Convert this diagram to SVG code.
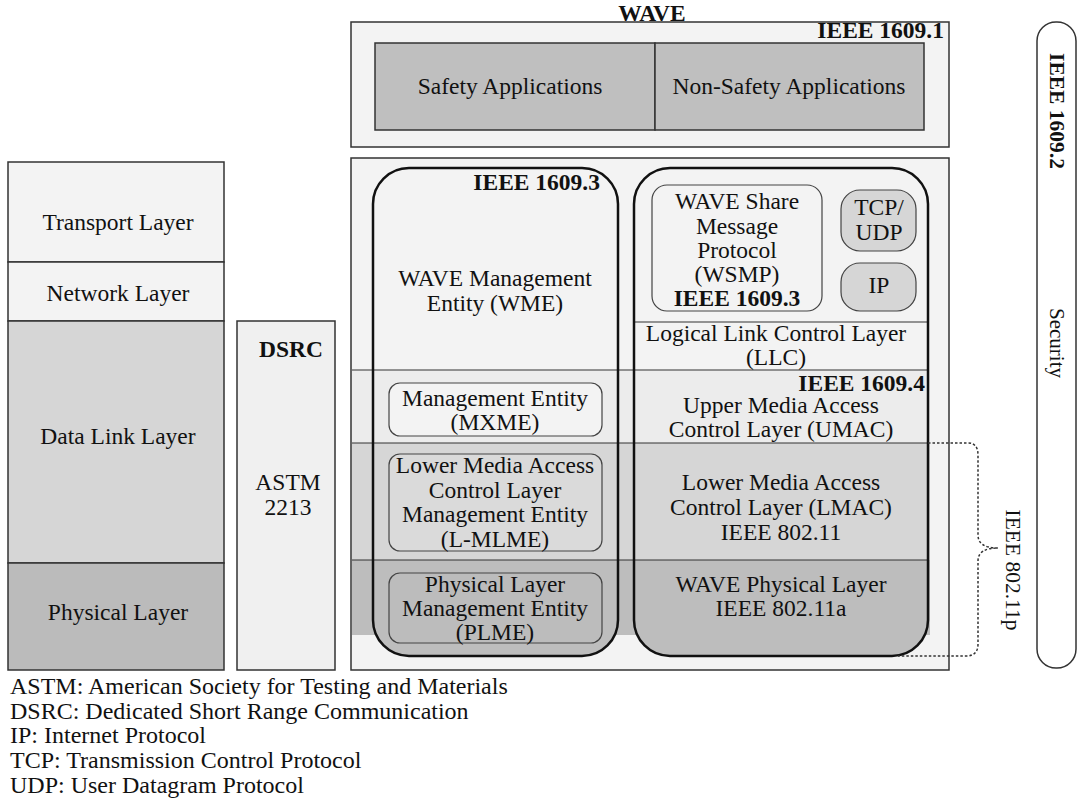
<svg xmlns="http://www.w3.org/2000/svg" width="1077" height="801" viewBox="0 0 1077 801">
<style>
text{font-family:"Liberation Serif","Times New Roman",serif;font-size:23.5px;fill:#111}
.c{text-anchor:middle}
.b{font-weight:bold}
.r{text-anchor:end}
.box{stroke:#333;stroke-width:1.5}
.rb{fill:none;stroke:#111;stroke-width:2.5}
.ln{stroke:#333;stroke-width:1.2;fill:none}
.sub{stroke:#444;stroke-width:1.2}
.lg{font-size:24px}
.rot{font-size:21.5px}
</style>
<defs>
<clipPath id="clipL"><rect x="373" y="168" width="245" height="488" rx="36"/></clipPath>
<clipPath id="clipR"><rect x="634" y="168" width="294" height="488" rx="36"/></clipPath>
</defs>

<g id="osi">
<rect class="box" x="8" y="162" width="216" height="100" fill="#f3f3f3"/>
<text class="c" x="118" y="230">Transport Layer</text>
<rect class="box" x="8" y="262" width="216" height="59" fill="#f3f3f3"/>
<text class="c" x="118" y="301">Network Layer</text>
<rect class="box" x="8" y="321" width="216" height="242" fill="#d6d6d6"/>
<text class="c" x="118" y="444">Data Link Layer</text>
<rect class="box" x="8" y="563" width="216" height="107" fill="#bbbbbb"/>
<text class="c" x="118" y="620">Physical Layer</text>
</g>

<g id="dsrc">
<rect class="box" x="237" y="321" width="98" height="349" fill="#f0f0f0"/>
<text class="c b" x="291" y="357">DSRC</text>
<text class="c" x="288" y="490">ASTM</text>
<text class="c" x="288" y="515">2213</text>
</g>

<g id="wave-apps">
<text class="c b" x="652" y="21">WAVE</text>
<rect class="box" x="351" y="22" width="598" height="125" fill="#f3f3f3"/>
<text class="r b" x="944" y="38">IEEE 1609.1</text>
<rect class="box" x="375" y="43" width="280" height="87" fill="#bfbfbf"/>
<rect class="box" x="655" y="43" width="269" height="87" fill="#bfbfbf"/>
<text class="c" x="510" y="94">Safety Applications</text>
<text class="c" x="789" y="94">Non-Safety Applications</text>
</g>

<g id="wave-stack">
<rect class="box" x="351" y="158" width="598" height="512" fill="#f3f3f3"/>
<rect x="352" y="370" width="578" height="73" fill="#ececec"/>
<rect x="352" y="443" width="578" height="117" fill="#d6d6d6"/>
<rect x="352" y="560" width="578" height="75" fill="#bdbdbd"/>
<g clip-path="url(#clipL)">
<rect x="373" y="168" width="245" height="202" fill="#f3f3f3"/>
<rect x="373" y="370" width="245" height="73" fill="#ececec"/>
<rect x="373" y="443" width="245" height="117" fill="#d6d6d6"/>
<rect x="373" y="560" width="245" height="96" fill="#bdbdbd"/>
</g>
<g clip-path="url(#clipR)">
<rect x="634" y="168" width="294" height="202" fill="#f3f3f3"/>
<rect x="634" y="370" width="294" height="73" fill="#ececec"/>
<rect x="634" y="443" width="294" height="117" fill="#d6d6d6"/>
<rect x="634" y="560" width="294" height="96" fill="#bdbdbd"/>
</g>
<line class="ln" x1="352" y1="370" x2="928" y2="370"/>
<line class="ln" x1="352" y1="443" x2="928" y2="443"/>
<line class="ln" x1="352" y1="560" x2="928" y2="560"/>
<line class="ln" x1="634" y1="322" x2="928" y2="322"/>
</g>

<g id="ieee16093">
<rect class="rb" x="373" y="168" width="245" height="488" rx="36"/>
<text class="r b" x="600" y="190">IEEE 1609.3</text>
<text class="c" x="495" y="286">WAVE Management</text>
<text class="c" x="495" y="311">Entity (WME)</text>
</g>
<g id="mxme">
<rect class="sub" x="389" y="383" width="213" height="53" rx="11" fill="#f3f3f3"/>
<text class="c" x="495" y="406">Management Entity</text>
<text class="c" x="495" y="430">(MXME)</text>
</g>
<g id="lmlme">
<rect class="sub" x="389" y="454" width="213" height="97" rx="11" fill="#dadada"/>
<text class="c" x="495" y="473">Lower Media Access</text>
<text class="c" x="495" y="498">Control Layer</text>
<text class="c" x="495" y="522">Management Entity</text>
<text class="c" x="495" y="547">(L-MLME)</text>
</g>
<g id="plme">
<rect class="sub" x="389" y="573" width="213" height="70" rx="11" fill="#bcbcbc"/>
<text class="c" x="495" y="592">Physical Layer</text>
<text class="c" x="495" y="616">Management Entity</text>
<text class="c" x="495" y="640">(PLME)</text>
</g>

<g id="comm-stack">
<rect class="rb" x="634" y="168" width="294" height="488" rx="36"/>
<text class="c" x="776" y="341">Logical Link Control Layer</text>
<text class="c" x="776" y="365">(LLC)</text>
<text class="r b" x="925" y="391">IEEE 1609.4</text>
<text class="c" x="781" y="413">Upper Media Access</text>
<text class="c" x="781" y="437">Control Layer (UMAC)</text>
<text class="c" x="781" y="490">Lower Media Access</text>
<text class="c" x="781" y="515">Control Layer (LMAC)</text>
<text class="c" x="781" y="540">IEEE 802.11</text>
<text class="c" x="781" y="592">WAVE Physical Layer</text>
<text class="c" x="781" y="616">IEEE 802.11a</text>
</g>
<g id="wsmp">
<rect class="sub" x="652" y="185" width="170" height="126" rx="15" fill="#f3f3f3"/>
<text class="c" x="737" y="209">WAVE Share</text>
<text class="c" x="737" y="234">Message</text>
<text class="c" x="737" y="258">Protocol</text>
<text class="c" x="737" y="282">(WSMP)</text>
<text class="c b" x="737" y="306">IEEE 1609.3</text>
</g>
<g id="tcpudp">
<rect class="sub" x="841" y="190" width="75" height="61" rx="19" fill="#d6d6d6"/>
<text class="c" x="879" y="215">TCP/</text>
<text class="c" x="879" y="240">UDP</text>
</g>
<g id="ip">
<rect class="sub" x="841" y="263" width="75" height="48" rx="19" fill="#d6d6d6"/>
<text class="c" x="879" y="293">IP</text>
</g>

<g id="connectors">
<path d="M928 443 H968 Q978 443 978 455 V535 Q978 548 998 548 Q978 548 978 561 V644 Q978 656 966 656 H898" fill="none" stroke="#333" stroke-width="1.5" stroke-dasharray="2.5,2"/>
</g>
<g id="ieee80211p">
<text class="c rot" transform="translate(1006,570) rotate(90)">IEEE 802.11p</text>
</g>

<g id="security">
<rect class="box" x="1037" y="22" width="39" height="646" rx="19" fill="#fff"/>
<text class="c b rot" transform="translate(1050,111) rotate(90)">IEEE 1609.2</text>
<text class="c" transform="translate(1050,343) rotate(90)" style="font-size:21px">Security</text>
</g>

<g id="legend">
<text class="lg" x="10" y="694">ASTM: American Society for Testing and Materials</text>
<text class="lg" x="10" y="719">DSRC: Dedicated Short Range Communication</text>
<text class="lg" x="10" y="743">IP: Internet Protocol</text>
<text class="lg" x="10" y="768">TCP: Transmission Control Protocol</text>
<text class="lg" x="10" y="793">UDP: User Datagram Protocol</text>
</g>
</svg>
